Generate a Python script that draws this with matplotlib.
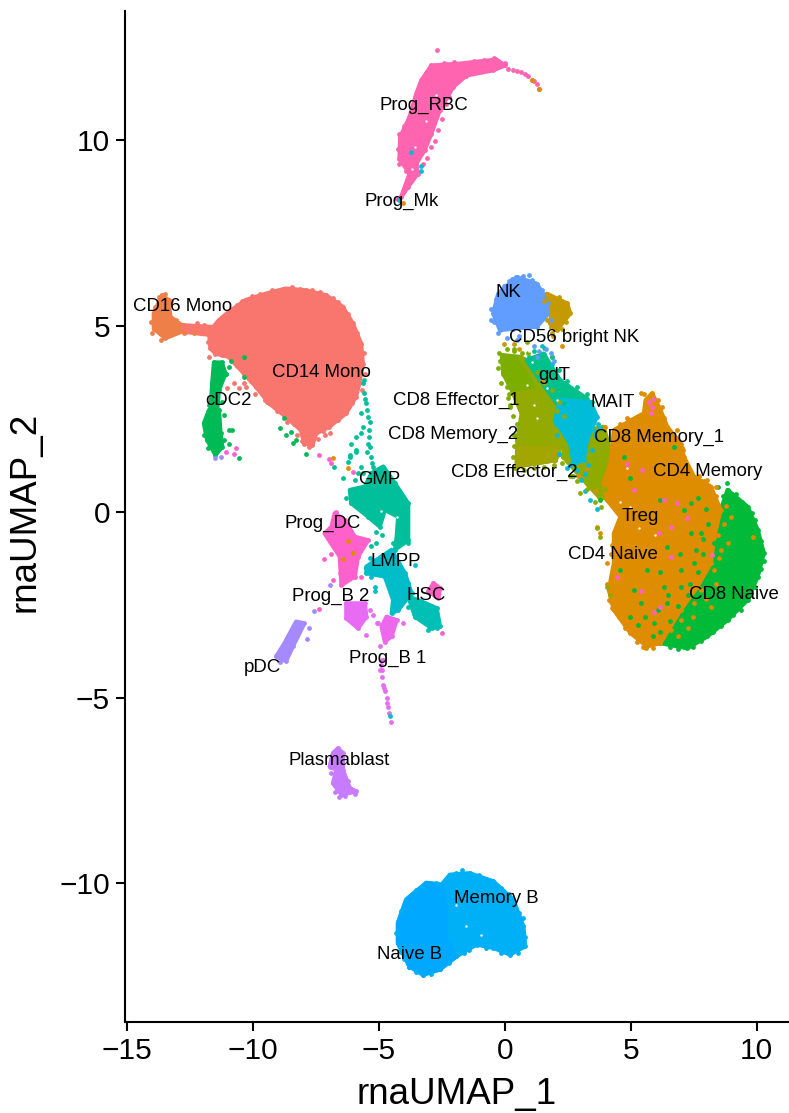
import matplotlib
matplotlib.use('Agg')
import matplotlib.pyplot as plt

plt.rcParams['font.family'] = ['Liberation Sans', 'DejaVu Sans']

# outlines of the dense cell clouds (UMAP units)
cd14_x = [-11.71, -11.31, -10.92, -10.25, -9.46, -8.66, -7.86, -7.06, -6.40, -6.00, -5.67, -5.60, -5.74, -5.87, -6.27, -6.93, -7.46, -7.60, -7.93, -8.06, -8.66, -9.32, -9.85, -10.32, -10.92, -11.45, -11.65]
cd14_y = [4.87, 5.19, 5.41, 5.73, 5.90, 6.04, 5.99, 5.86, 5.55, 5.10, 4.56, 4.02, 3.49, 3.13, 2.68, 2.32, 2.14, 1.83, 1.87, 2.23, 2.59, 2.95, 3.40, 3.75, 4.20, 4.29, 4.43]
cd14_tail_x = [-12.71, -11.65, -11.65, -12.64]
cd14_tail_y = [5.05, 5.01, 4.79, 4.87]
cd16_x = [-13.57, -13.31, -13.24, -12.78, -12.64, -13.44, -13.90, -13.90]
cd16_y = [5.86, 5.73, 5.28, 5.05, 4.92, 4.70, 4.96, 5.37]
cdc2_x = [-11.71, -11.31, -11.25, -11.18, -11.45, -11.78, -11.91]
cdc2_y = [2.77, 2.77, 2.14, 1.78, 1.56, 1.96, 2.41]
cdc2_stem_x = [-11.51, -11.20, -11.05, -11.31, -11.38, -11.65, -11.58]
cdc2_stem_y = [4.05, 4.05, 3.75, 3.31, 2.77, 2.77, 3.49]

cd8_naive_x = [8.87, 9.67, 10.07, 10.31, 10.07, 9.67, 8.87, 8.07, 7.28, 6.21, 7.01, 7.68, 8.21, 8.34, 8.60]
cd8_naive_y = [0.62, 0.17, -0.46, -1.08, -1.71, -2.34, -2.88, -3.32, -3.64, -3.50, -2.61, -1.98, -1.35, -0.64, 0.08]
cd4_x = [5.88, 6.21, 6.48, 7.01, 7.14, 7.54, 8.21, 8.60, 8.34, 8.21, 7.68, 7.01, 6.21, 5.68, 5.02, 4.36, 4.16, 4.36, 4.36, 4.62, 4.09, 3.96, 4.22, 4.36, 5.29, 5.55, 5.62]
cd4_y = [3.22, 2.77, 2.32, 1.87, 1.51, 0.98, 0.71, 0.08, -0.64, -1.35, -1.98, -2.61, -3.50, -3.59, -3.23, -2.61, -2.07, -1.35, -0.55, -0.10, 0.35, 0.80, 1.33, 2.23, 2.59, 2.68, 3.04]
eff1_x = [-0.09, 0.64, 1.23, 1.30, 0.70, 0.37, -0.03]
eff1_y = [4.25, 4.20, 3.58, 2.95, 2.68, 3.22, 3.75]
gap_x = [0.64, 0.90, 1.43, 1.90, 2.10, 2.03, 1.30, 1.23]
gap_y = [4.20, 4.11, 3.58, 3.10, 2.95, 2.50, 3.30, 3.58]
mem2_x = [0.37, 1.30, 1.90, 2.36, 2.03, 0.50, 0.53, 0.70]
mem2_y = [3.22, 3.30, 2.50, 1.96, 1.42, 1.25, 1.96, 2.68]
eff2_x = [0.50, 0.55, 2.03, 2.20, 2.03]
eff2_y = [1.25, 1.75, 1.75, 1.60, 1.42]
bridge_x = [2.36, 2.63, 3.96, 4.36, 4.22, 3.76, 3.03, 2.36]
bridge_y = [1.96, 2.14, 2.32, 1.33, 0.35, 0.44, 0.98, 1.50]
gdt_x = [0.90, 1.57, 2.23, 3.29, 3.03, 2.10, 1.43]
gdt_y = [4.11, 4.29, 3.57, 3.08, 2.77, 2.95, 3.58]
mait_x = [2.23, 3.43, 3.69, 3.29, 3.16, 2.76, 2.63, 2.03]
mait_y = [3.04, 2.99, 2.59, 1.96, 1.42, 1.33, 1.87, 2.50]
nk_x = [0.50, 1.30, 1.63, 1.77, 1.30, 0.37, -0.16, -0.43, -0.23]
nk_y = [6.35, 6.17, 5.82, 5.37, 5.01, 4.96, 4.92, 5.37, 5.90]
cd56_x = [1.70, 2.50, 2.63, 2.10, 1.83, 1.90]
cd56_y = [5.90, 5.64, 5.37, 4.92, 5.10, 5.46]

b_x = [-2.15, -1.36, -0.42, 0.37, 0.77, 0.84, 0.24, -0.42, -1.09, -1.89, -2.55, -3.21, -3.75, -4.21, -4.21, -3.88, -3.08, -2.48]
b_y = [-9.73, -9.69, -9.91, -10.40, -11.12, -11.66, -11.88, -11.70, -11.61, -11.93, -12.28, -12.42, -12.20, -11.57, -11.03, -10.40, -9.95, -10.00]
naive_b_x = [-2.48, -2.30, -2.30, -1.89, -2.55, -3.21, -3.75, -4.21, -4.21, -3.88, -3.08]
naive_b_y = [-10.00, -10.70, -11.50, -11.93, -12.28, -12.42, -12.20, -11.57, -11.03, -10.40, -9.95]

gmp_x = [-5.26, -4.79, -4.33, -3.80, -3.80, -4.33, -4.26, -4.20, -4.73, -4.93, -5.39, -6.06, -6.12, -5.52]
gmp_y = [1.07, 1.25, 0.80, 0.26, -0.73, -0.99, -0.64, -0.10, 0.08, -0.37, -0.10, 0.26, 0.62, 0.71]
lmpp_x = [-5.06, -4.46, -3.93, -3.67, -4.20, -4.46, -4.40, -4.73, -5.46, -5.46]
lmpp_y = [-1.26, -0.99, -1.62, -2.16, -2.61, -2.70, -2.34, -1.71, -1.62, -1.44]
hsc_x = [-3.80, -3.40, -2.67, -2.54, -2.87, -3.53]
hsc_y = [-2.25, -2.34, -2.56, -3.05, -3.10, -2.79]
hsc_pink_x = [-2.80, -2.54, -2.60, -3.00]
hsc_pink_y = [-1.89, -2.02, -2.29, -2.11]
prog_dc_x = [-6.72, -6.32, -5.92, -5.39, -5.79, -5.92, -6.45, -6.52, -7.12, -6.85]
prog_dc_y = [-0.01, -0.19, -0.64, -0.73, -1.17, -1.71, -1.94, -1.17, -0.55, -0.37]
prog_b2_x = [-6.26, -5.52, -5.46, -5.79, -6.26]
prog_b2_y = [-2.43, -2.43, -2.79, -3.10, -2.83]
prog_b1_x = [-4.66, -4.26, -4.46, -4.73, -4.86]
prog_b1_y = [-2.79, -2.88, -3.32, -3.46, -3.06]
pdc_x = [-8.25, -7.92, -8.38, -8.65, -9.04, -8.71]
pdc_y = [-2.92, -2.97, -3.59, -3.99, -3.86, -3.50]
plasma_x = [-6.59, -6.39, -6.39, -6.12, -5.86, -6.45, -6.79, -6.65, -6.92, -6.79]
plasma_y = [-6.33, -6.46, -6.91, -7.40, -7.49, -7.58, -7.27, -6.91, -6.82, -6.46]
rbc_x = [-2.88, -1.76, -0.30, 0.04, -0.43, -1.49, -2.02, -2.55, -2.88, -3.15, -3.48, -3.42, -3.81, -4.08, -3.75, -4.15, -4.12, -3.75, -3.48, -3.28]
rbc_y = [12.04, 12.09, 12.20, 12.04, 11.91, 11.77, 11.46, 10.83, 10.21, 9.76, 9.40, 9.13, 8.77, 8.50, 9.13, 9.53, 10.12, 10.65, 11.28, 11.64]

# single cells at the rims and outside the clouds
cd14_edge_x = [-10.6, -10.0, -9.7, -9.2, -8.9, -8.4, -8.1, -7.6, -7.3, -6.8, -6.6, -6.2, -5.85, -5.55, -5.52, -5.62, -6.05, -6.6, -7.2, -7.75, -8.0, -8.35, -9.0, -9.5, -9.65, -10.05, -10.6, -11.2, -11.7, -11.75, -11.5, -11.1, -10.4, -8.6, -9.1, -7.4, -7.1, -6.9, -8.2, -10.3, -9.9, -10.98, -10.72, -10.25, -10.52, -9.42, -12.5, -12.2, -11.9]
cd14_edge_y = [5.6, 5.85, 5.88, 6.0, 6.0, 6.08, 6.02, 6.0, 5.95, 5.78, 5.68, 5.35, 4.85, 4.3, 3.75, 3.3, 2.95, 2.5, 2.2, 1.78, 1.95, 2.4, 2.75, 3.05, 3.3, 3.55, 3.95, 4.25, 4.2, 4.6, 5.0, 5.3, 5.7, 2.45, 2.85, 2.0, 2.1, 2.15, 2.1, 3.5, 3.2, 3.35, 3.49, 3.4, 3.35, 2.99, 5.0, 5.1, 5.05]
cd16_edge_x = [-13.7, -13.85, -14.0, -13.95, -13.6, -13.1, -13.0, -12.7, -12.3, -13.45, -13.2]
cd16_edge_y = [5.8, 5.55, 5.15, 4.85, 4.65, 4.85, 5.2, 4.85, 4.85, 5.9, 5.7]
cdc2_dots_x = [-11.51, -11.38, -11.51, -11.18, -11.12, -10.92, -10.78, -11.12, -10.92, -10.52, -11.47, -11.31, -10.92, -11.05, -10.85, -10.32, -10.32, -8.72, -8.88, -8.66, -8.46, -8.39, -8.26, -7.86, -11.7, -11.9, -11.75]
cdc2_dots_y = [3.71, 3.31, 3.17, 2.99, 2.63, 2.23, 2.23, 1.96, 1.87, 1.47, 3.84, 3.93, 3.93, 3.75, 4.1, 3.67, 4.2, 2.55, 2.3, 2.1, 2.19, 1.89, 1.96, 1.58, 2.9, 2.1, 1.75]
rbc_dots_x = [0.17, 0.34, 0.50, 0.66, 0.83, 0.97, 1.10, 1.19, 1.30, 1.37, -2.65, -3.1, -2.4, -2.0, -1.2, -0.8, -0.4, 0.05, -1.9, -2.2, -2.3, -2.45, -2.6, -2.75, -2.9, -3.05, -3.2, -3.55, -3.7, -3.95, -4.15, -4.2, -4.15, -3.9, -3.7, -4.0, -4.25]
rbc_dots_y = [11.95, 11.93, 11.89, 11.86, 11.82, 11.75, 11.66, 11.62, 11.55, 11.42, 12.45, 11.85, 12.1, 12.13, 12.15, 12.2, 12.25, 12.1, 11.6, 11.2, 11.0, 10.6, 10.3, 10.0, 9.85, 9.55, 9.4, 11.2, 10.8, 10.4, 10.2, 9.8, 9.4, 9.2, 9.3, 8.65, 8.45]
stem_x = [-5.60, -5.54, -5.47, -5.67, -5.40, -5.60, -5.34, -5.40, -5.67, -5.87, -6.07, -5.27, -5.21, -5.87, -6.13, -6.40, -5.54, -5.50, -5.44, -5.36, -5.31, -5.44, -5.14, -5.60, -5.30, -5.25, -5.79, -5.66, -5.92, -6.06, -6.26, -5.06, -5.26, -5.06, -4.86, -4.4, -3.8, -3.93, -4.0, -4.93, -4.53, -6.73, -6.2, -6.13, -5.87]
stem_y = [3.49, 3.22, 2.95, 2.68, 2.59, 2.32, 2.23, 1.87, 2.14, 2.05, 1.87, 1.51, 1.25, 1.69, 1.51, 0.93, 3.58, 3.08, 2.77, 2.05, 1.78, 1.65, 1.07, 1.07, 2.45, 1.35, 1.07, 1.25, 0.89, 0.62, 0.4, -0.5, -0.9, -0.82, -0.59, -0.81, -0.81, -0.32, -0.01, 0.04, 0.26, 1.25, 1.38, 1.56, 1.65]
strand_x = [-4.86, -4.93, -4.83, -4.79, -4.73, -4.66, -4.60, -4.56, -4.49, -4.90, -4.76, -4.63, -4.93, -5.02, -4.8, -4.86, -4.0, -5.33, -5.19, -5.46, -6.19, -5.0]
strand_y = [-3.95, -4.22, -4.40, -4.62, -4.80, -4.98, -5.21, -5.38, -5.61, -4.10, -4.70, -5.10, -3.59, -2.97, -3.95, -4.22, -2.97, -2.61, -2.74, -3.28, -2.52, -2.95]
prog_dc_dots_x = [-6.65, -7.14, -6.85, -6.43, -6.79, -6.52, -5.66, -7.34, -7.33, -6.93, -6.87, -6.0, -11.05, -10.72, -10.65, -2.47]
prog_dc_dots_y = [0.04, -1.24, -1.11, -1.25, -1.8, -1.62, -1.71, -2.58, 1.56, 1.44, 1.35, 1.11, 1.63, 1.6, 1.74, -3.23]
purple_x = [-6.92, -7.52, -7.81, -7.72, -11.47, -11.25, -8.9, -8.55]
purple_y = [-1.94, -2.63, -3.39, -3.1, 1.49, 1.52, -4.0, -3.75]
lmpp_dots_x = [-5.46, -5.26, -5.13, -3.53, -4.66, -4.6, -4.46, -4.33, -3.8, -5.3, -5.1]
lmpp_dots_y = [-1.49, -1.71, -1.98, -1.4, -1.26, -1.17, -2.61, -2.38, -1.89, -1.2, -2.1]
hsc_dots_x = [-2.67, -3.8, -3.27, -3.67, -2.87, -3.0, -2.75]
hsc_dots_y = [-3.1, -2.52, -2.79, -2.43, -2.56, -3.15, -2.95]
plasma_dots_x = [-5.9, -6.2, -6.7, -6.85, -6.55, -6.3]
plasma_dots_y = [-7.55, -7.2, -7.5, -7.0, -7.65, -7.6]

cd8_edge_x = [9.2, 9.45, 9.85, 9.95, 10.2, 10.3, 10.2, 9.95, 9.8, 9.4, 9.1, 8.6, 8.3, 7.8, 7.5, 6.9, 6.6, 8.85, 8.5, 8.7, 5.02, 6.21, 7.14, 7.41, 6.48, 7.54, 7.01, 5.68, 6.35, 5.42, 5.02, 5.95, 7.01, 5.15, 4.62, 6.48, 4.75, 6.75, 3.82, 7.41, 7.81, 8.34]
cd8_edge_y = [0.5, 0.3, 0.0, -0.2, -0.75, -1.3, -1.5, -2.0, -2.15, -2.6, -2.75, -3.05, -3.2, -3.45, -3.6, -3.65, -3.6, 0.8, 0.7, 0.45, 0.93, 0.35, 0.08, -0.55, -0.91, -1.35, -1.53, -1.53, -1.98, -2.43, -2.79, -2.97, -1.98, -2.07, -1.53, -2.43, 1.51, 1.78, 0.35, 0.26, -0.55, -0.82]
cd8_mix_x = [7.6, 7.9, 7.7, 7.3, 6.9, 6.6, 6.2, 5.9, 7.4, 7.9, 8.1, 8.0, 7.7, 6.8, 7.1, 6.5, 6.1, 5.6, 5.3, 7.0, 6.2]
cd8_mix_y = [-1.0, -0.7, -1.6, -2.2, -2.5, -2.9, -3.2, -3.3, -1.9, -1.1, -0.3, 0.1, 0.4, -3.1, -2.8, -2.2, -2.6, -2.8, -3.0, -1.1, -1.6]
pink_x = [5.75, 5.95, 5.88, 5.82, 6.15, 6.61, 6.88, 5.15, 5.48, 4.89, 8.27, 6.61, 6.21, 5.42, 4.49, 5.95, 7.28, 6.35]
pink_y = [2.99, 3.08, 2.86, 2.68, -0.55, -0.37, 0.26, 0.62, 1.16, 1.33, -1.13, -1.17, -2.52, -2.11, -1.71, -2.65, -0.14, 0.35]
orange_x = [8.60, 8.87, 8.34, 7.81, 7.54, 7.01, 6.61, 9.00, 8.21, 9.87, 5.42, 5.55, 6.28, 6.88, 7.08, 8.07, 8.41, 5.15, 4.02, 3.69, 3.82, 4.16, 4.29, 4.75, 5.28, 5.62, 4.09, 1.10, 1.37, -4.01, 2.3, 1.9, 1.5, 2.95, 3.3, 3.6, 6.1, 6.35, 6.7, 7.1, 7.3, 7.75, 7.95, 8.4, 4.1, 4.25, 4.55, 4.8, 5.3, 5.5, 5.9, 4.3, 4.25, 4.3, 4.6, 5.0, 4.9, -6.39, -5.99, -6.19, -6.8, -6.2, 8.4, 8.5, 8.55, 8.4, 8.0, 7.5, 7.3, 6.9, 8.8, 8.75]
orange_y = [-1.00, -0.82, -1.53, -2.07, -2.43, -2.88, -3.15, -0.10, -2.52, -0.64, 3.22, 3.20, 2.86, 2.23, 1.74, 0.89, 0.71, 2.50, 2.32, -0.37, -0.55, -2.34, -2.56, -2.97, -3.46, -3.64, -1.35, 11.66, 11.42, 8.34, 4.5, 4.2, 3.55, 1.0, 1.2, 0.6, 3.05, 2.55, 2.1, 1.7, 1.25, 1.0, 0.85, 0.45, -1.9, -2.4, -2.8, -3.1, -3.4, -3.6, -3.62, -1.65, -1.1, -0.85, 2.4, 2.5, 2.55, -1.24, -1.08, -0.74, 1.47, 1.2, -0.2, -0.6, -1.2, -1.9, -2.3, -2.8, -3.1, -3.3, 0.2, -0.3]
cyan_x = [-3.68, -3.31, -3.28, 3.2, 3.4, 3.05, 2.9, 3.7, -4.15, -4.53, 2.2, 2.5, 1.9, 1.5, 3.6, 3.8, 3.75, 3.6, 3.5, 3.35, 3.2, 2.75, 2.6, 2.2, 2.1, 2.05]
cyan_y = [9.71, 9.33, 9.20, 0.6, 0.35, 0.9, 1.15, 0.1, 8.41, -5.47, 1.6, 1.2, 4.0, 4.5, 2.2, 2.3, 2.4, 2.1, 1.7, 1.3, 1.05, 1.0, 1.3, 1.6, 2.1, 2.4]
gdt_dots_x = [1.0, 1.2, 1.6, 1.9, 2.2, 2.5, 2.9, 3.3, 3.5, 1.7, 2.0, 2.4]
gdt_dots_y = [4.2, 4.35, 4.45, 4.2, 3.85, 3.55, 3.4, 3.2, 3.0, 3.4, 3.15, 2.95]
olive_x = [3.0, 3.4, 3.6, 3.85, 4.0, 3.7, 3.8, 4.1, 4.2, 1.6, 1.9, 2.2, 2.1, 1.7, 1.4, 2.4, 0.9, 0.4, 0.4, 0.35, 0.45, 0.8, 1.2, 1.6, 2.0, 2.3, 2.6, 2.9, 3.3, 2.7]
olive_y = [0.55, 0.7, 0.3, 0.15, 0.65, -0.4, -0.65, -2.0, -2.2, 3.5, 3.3, 3.0, 2.75, 2.9, 3.1, 2.6, 4.6, 4.4, 1.8, 1.5, 1.2, 1.15, 1.2, 1.25, 1.3, 1.35, 1.0, 0.85, 0.65, 1.0]
eff1_dots_x = [-0.2, 0.1, 0.4, 0.7, -0.25, -0.1, 0.15, 0.25, 0.5, 0.4, 0.95, 1.3, -0.15, 0.1, 0.2, 0.35, 0.25]
eff1_dots_y = [4.3, 4.4, 4.35, 4.3, 3.9, 3.5, 3.1, 2.85, 2.4, 2.1, 4.3, 3.8, 4.1, 3.4, 3.2, 2.6, 2.9]
nk_dots_x = [0.6, 0.1, -0.25, -0.5, 1.2, 1.4, 1.65, 1.0, 1.85, 1.3, 2.0, 0.5, 0.2, 0.75, 1.1, 1.5, 1.75, 1.85, -0.5, -0.4, -0.3, 0.0, 0.3]
nk_dots_y = [4.75, 4.7, 4.85, 5.2, 4.5, 4.35, 4.4, 6.4, 4.3, 4.2, 4.1, 4.65, 6.25, 6.38, 6.28, 6.0, 5.65, 5.2, 5.5, 5.15, 5.75, 6.1, 6.3]
cd56_dots_x = [1.6, 1.85, 2.2, 2.55, 2.45, 2.3, 1.95, 1.85, 1.7, 1.9, 0.4, 0.0, 0.6, 1.9]
cd56_dots_y = [5.7, 5.75, 5.8, 5.5, 5.15, 4.95, 4.75, 5.0, 5.2, 5.3, 4.55, 4.55, 4.4, 4.85]
b_edge_x = [-1.9, -1.65, -1.0, -0.7, -0.1, 0.2, 0.6, 0.75, 0.85, 0.55, -0.1, -0.7, -1.4, -1.6, -2.2, -2.9, -3.5, -3.95, -4.1, -4.3, -4.1, -3.5, -3.3, -2.7, -1.65]
b_edge_y = [-9.68, -9.68, -9.75, -9.85, -10.1, -10.25, -10.75, -10.9, -11.4, -11.85, -11.85, -11.7, -11.75, -11.85, -12.1, -12.4, -12.35, -12.0, -11.8, -11.3, -10.7, -10.15, -10.05, -9.95, -9.6]

# white specks where the cloud is thin
hole_x = [-3.55, -3.1, -2.7, -3.65, -4.9, -4.25, -4.65, 4.6, 5.0, 5.6, 4.9, 1.0, 1.45, 1.7, 2.1, 1.3, 3.9, 4.15, 5.35, 6.0, 1.2, 0.9, 1.1, -1.9, -1.5, -0.9]
hole_y = [9.85, 10.55, 11.25, 9.25, 0.05, -0.1, -0.65, 0.3, 0.15, 2.0, 1.2, 4.35, 4.4, 3.35, 3.05, 2.55, -0.2, -0.3, -0.4, -0.6, 2.9, 3.45, 4.05, -10.55, -11.1, -11.35]

# cell type labels and where they sit
labels = ['Prog_RBC', 'Prog_Mk', 'CD16 Mono', 'CD14 Mono', 'cDC2', 'NK', 'CD56 bright NK', 'gdT', 'CD8 Effector_1', 'MAIT', 'CD8 Memory_2', 'CD8 Memory_1', 'CD8 Effector_2', 'CD4 Memory', 'GMP', 'Treg', 'Prog_DC', 'CD4 Naive', 'LMPP', 'HSC', 'Prog_B 2', 'CD8 Naive', 'Prog_B 1', 'pDC', 'Plasmablast', 'Memory B', 'Naive B']
label_x = [-3.19, -4.06, -12.75, -7.25, -10.92, 0.16, 2.79, 1.99, -1.91, 4.30, -2.03, 6.14, 0.40, 8.09, -4.96, 5.40, -7.21, 4.34, -4.30, -3.07, -6.89, 9.12, -4.62, -9.60, -6.53, -0.32, -3.75]
label_y = [10.92, 8.34, 5.51, 3.74, 2.99, 5.89, 4.68, 3.66, 2.99, 2.93, 2.07, 1.99, 1.05, 1.08, 0.86, -0.13, -0.32, -1.15, -1.34, -2.25, -2.29, -2.23, -3.94, -4.19, -6.70, -10.40, -11.90]

blobs = [
    (cd16_x, cd16_y, '#EF7F48'),
    (cdc2_stem_x, cdc2_stem_y, '#00BA55'),
    (cd14_x, cd14_y, '#F8766D'),
    (cd14_tail_x, cd14_tail_y, '#F8766D'),
    (cdc2_x, cdc2_y, '#00BA55'),
    (rbc_x, rbc_y, '#FF64B0'),
    (nk_x, nk_y, '#619CFF'),
    (cd56_x, cd56_y, '#C49A00'),
    (eff1_x, eff1_y, '#7CAE00'),
    (gap_x, gap_y, '#8FAB00'),
    (mem2_x, mem2_y, '#93AA00'),
    (eff2_x, eff2_y, '#A3A500'),
    (bridge_x, bridge_y, '#8FAB00'),
    (gdt_x, gdt_y, '#00C08B'),
    (mait_x, mait_y, '#00BCD8'),
    (cd8_naive_x, cd8_naive_y, '#00BA38'),
    (cd4_x, cd4_y, '#DE8C00'),
    (b_x, b_y, '#00B0F6'),
    (naive_b_x, naive_b_y, '#00A9FF'),
    (gmp_x, gmp_y, '#00BF9A'),
    (lmpp_x, lmpp_y, '#00BDC9'),
    (hsc_x, hsc_y, '#00BFB5'),
    (hsc_pink_x, hsc_pink_y, '#FF61C3'),
    (prog_dc_x, prog_dc_y, '#FF61CC'),
    (prog_b2_x, prog_b2_y, '#E76BF3'),
    (prog_b1_x, prog_b1_y, '#ED68ED'),
    (pdc_x, pdc_y, '#A58AFF'),
    (plasma_x, plasma_y, '#C77CFF'),
]

dots = [
    (cd14_edge_x, cd14_edge_y, '#F8766D'),
    (cd16_edge_x, cd16_edge_y, '#EF7F48'),
    (cdc2_dots_x, cdc2_dots_y, '#00BA55'),
    (rbc_dots_x, rbc_dots_y, '#FF64B0'),
    (stem_x, stem_y, '#00BF9A'),
    (strand_x, strand_y, '#E76BF3'),
    (prog_dc_dots_x, prog_dc_dots_y, '#FF61CC'),
    (purple_x, purple_y, '#A58AFF'),
    (lmpp_dots_x, lmpp_dots_y, '#00BDC9'),
    (hsc_dots_x, hsc_dots_y, '#00BFB5'),
    (plasma_dots_x, plasma_dots_y, '#C77CFF'),
    (cd8_edge_x, cd8_edge_y, '#00BA38'),
    (cd8_mix_x, cd8_mix_y, '#00BA38'),
    (pink_x, pink_y, '#FF61C3'),
    (orange_x, orange_y, '#DE8C00'),
    (cyan_x, cyan_y, '#00BCD8'),
    (gdt_dots_x, gdt_dots_y, '#00C08B'),
    (olive_x, olive_y, '#8FAB00'),
    (eff1_dots_x, eff1_dots_y, '#7CAE00'),
    (nk_dots_x, nk_dots_y, '#619CFF'),
    (cd56_dots_x, cd56_dots_y, '#C49A00'),
    (b_edge_x, b_edge_y, '#00B0F6'),
]

# the values above were read against a grid slightly off the real ticks
shift_x = -0.03
shift_y = -0.035

fig = plt.figure(figsize=(7.89, 11.13), dpi=100)
ax = fig.add_axes([125 / 789, 91.3 / 1113, 664 / 789, 1010.3 / 1113])

for x, y, c in blobs:
    xs = [v + shift_x for v in x]
    ys = [v + shift_y for v in y]
    ax.fill(xs, ys, color=c, lw=3, joinstyle='round', zorder=2)
    ax.scatter(xs, ys, s=12, color=c, linewidths=0, zorder=2)
for x, y, c in dots:
    xs = [v + shift_x for v in x]
    ys = [v + shift_y for v in y]
    ax.scatter(xs, ys, s=12, color=c, linewidths=0, zorder=3)
ax.scatter([v + shift_x for v in hole_x], [v + shift_y for v in hole_y], s=3, color='white', linewidths=0, zorder=4)

for name, x, y in zip(labels, label_x, label_y):
    ax.text(x + shift_x, y, name, fontsize=13.4, ha='center', va='center', color='black', zorder=5)

ax.set_xlim(-15.07, 11.28)
ax.set_ylim(-13.72, 13.46)
ax.set_xticks([-15, -10, -5, 0, 5, 10])
ax.set_yticks([-10, -5, 0, 5, 10])
ax.set_xticklabels(['\u221215', '\u221210', '\u22125', '0', '5', '10'])
ax.set_yticklabels(['\u221210', '\u22125', '0', '5', '10'])
ax.tick_params(labelsize=21.5, width=1.5, length=6.8, color='black', labelcolor='black', pad=4)
ax.set_xlabel('rnaUMAP_1', fontsize=26.5, va='center')
ax.set_ylabel('rnaUMAP_2', fontsize=26.5, va='center')
ax.xaxis.set_label_coords(0.5, -0.072)
ax.yaxis.set_label_coords(-0.151, 0.505)
ax.spines['top'].set_visible(False)
ax.spines['right'].set_visible(False)
ax.spines['left'].set_linewidth(1.5)
ax.spines['bottom'].set_linewidth(1.5)

plt.savefig('out.png', dpi=100)
